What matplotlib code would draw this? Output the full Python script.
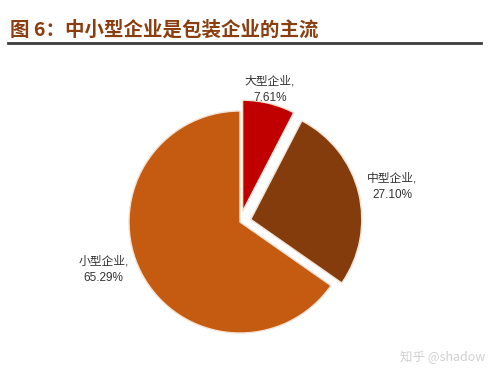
import matplotlib.pyplot as plt
import numpy as np

plt.rcParams['font.family'] = ['Noto Sans CJK SC', 'DejaVu Sans']

names = ['大型企业', '中型企业', '小型企业']
shares = [7.61, 27.10, 65.29]
colors = ['#C00000', '#843C0C', '#C55A11']
explode = [0.1, 0.1, 0]

fig = plt.figure(figsize=(4.96, 3.81), dpi=100)

# title + rule
fig.text(10 / 496, 1 - 30 / 381, '图 6：中小型企业是包装企业的主流', fontsize=14,
         fontweight='bold', color='#8A3E10', va='center', ha='left')
fig.add_artist(plt.Line2D([8 / 496, 481 / 496], [1 - 43 / 381, 1 - 43 / 381],
                          color='#3C3C3C', lw=2))

# pie, radius 111 px centred at (240, 222)
ax = fig.add_axes([(240 - 150) / 496, (381 - 222 - 150) / 381, 300 / 496, 300 / 381])
lim = 150 / 111

labels = [f'{n},\n{v:.2f}%' for n, v in zip(names, shares)]
wedges, texts = ax.pie(shares, colors=colors, explode=explode, startangle=90,
                       counterclock=False, labels=labels, labeldistance=1.3,
                       wedgeprops=dict(edgecolor='#F3E2D3', linewidth=1.0),
                       textprops=dict(fontsize=8.5, color='#333333',
                                      family=['Liberation Sans', 'Noto Sans CJK SC'],
                                      ha='center', va='center', linespacing=1.45),
                       frame=True)
ax.set_xlim(-lim, lim)
ax.set_ylim(-lim, lim)
ax.set_aspect('equal')
ax.axis('off')

# fine-tune label spots
texts[0].set_position((0.27, 1.19))
texts[1].set_position((1.37, 0.32))
texts[2].set_position((-1.23, -0.43))

fig.text(485 / 496, 1 - 357 / 381, '知乎 @shadow', fontsize=9, color='#D0D0D0',
         ha='right', va='center')

fig.savefig('out.png', dpi=100)
